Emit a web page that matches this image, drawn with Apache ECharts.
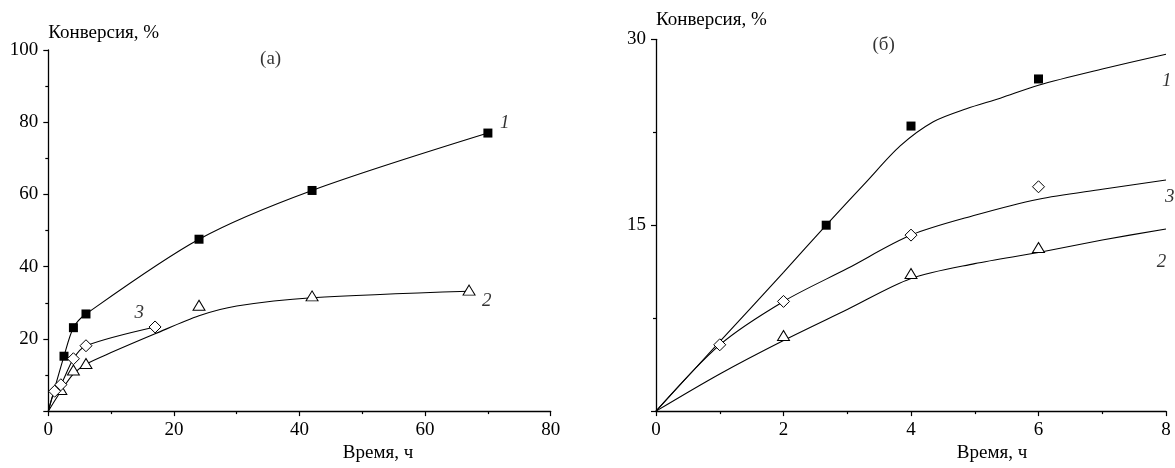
<!DOCTYPE html>
<html>
<head>
<meta charset="utf-8">
<script src="https://cdn.jsdelivr.net/npm/echarts@6/dist/echarts.min.js"></script>
<style>
html,body{margin:0;padding:0;background:#fff;}
#chart{width:1175px;height:468px;}
</style>
</head>
<body>
<div id="chart"></div>
<script>
// ---------- Panel (а) ----------
const aXTicks = [0, 20, 40, 60, 80];
const aYTicks = [0, 20, 40, 60, 80, 100];
// measured points
const a1Points = [[2.5, 15.2], [4, 23.1], [6, 26.9], [24, 47.6], [42, 61.1], [70, 77]];
const a2Points = [[2, 6], [4, 11.4], [6, 13.2], [24, 29.3], [42, 31.9], [67, 33.5]];
const a3Points = [[1, 5.5], [2, 7.3], [4, 14.5], [6, 18.1], [17, 23.3]];
// fitted curves
const a1Curve = [[0, 0], [2.5, 15.2], [4, 23.1], [6, 26.9], [24, 47.6], [42, 61.1], [70, 77]];
const a2Curve = [[0, 0], [2, 5.5], [4, 10.3], [6, 13], [10, 16.2], [17, 21.4], [24, 26.4], [30, 29.1], [42, 31.4], [67, 33.2]];
const a3Curve = [[0, 0], [1, 5.5], [2, 7.3], [4, 14.5], [6, 18.1], [17, 23.3]];
const aLabels = [[72.7, 79.8, '1'], [69.8, 30.5, '2'], [14.5, 27.3, '3']];
const aTitle = [[35.4, 97.5, '(а)']];

// ---------- Panel (б) ----------
const bXTicks = [0, 2, 4, 6, 8];
const bYTicks = [0, 15, 30];
const b1Points = [[2.67, 15], [4, 23], [6, 26.8]];
const b2Points = [[2, 6.1], [4, 11.1], [6, 13.2]];
const b3Points = [[1, 5.35], [2, 8.85], [4, 14.2], [6, 18.1]];
const b1Curve = [[0, 0], [1, 5.6], [2, 11.2], [2.67, 15], [3.3, 18.5], [3.83, 21.4], [4.35, 23.35], [4.87, 24.4], [5.4, 25.25], [6, 26.3], [7, 27.6], [8, 28.8]];
const b2Curve = [[0, 0], [1, 3.0], [2, 5.7], [3, 8.2], [4, 10.7], [5, 11.9], [6, 12.8], [7, 13.8], [8, 14.7]];
const b3Curve = [[0, 0], [1, 5.35], [2, 8.85], [3, 11.5], [4, 14.2], [5, 15.8], [6, 17.1], [7, 17.9], [8, 18.65]];
const bLabels = [[8.01, 26.6, '1'], [7.93, 12.0, '2'], [8.06, 17.3, '3']];
const bTitle = [[3.57, 29.5, '(б)']];

const yName = 'Конверсия, %';
const xName = 'Время, ч';

const FONT = '"Liberation Serif", "Times New Roman", serif';
const BLACK = '#000';

function xAxisFor(ticks, gridIndex, namePad, nameGap) {
  return {
    type: 'value', gridIndex,
    min: ticks[0], max: ticks[ticks.length - 1], interval: ticks[1] - ticks[0],
    name: xName, nameLocation: 'middle', nameGap,
    nameTextStyle: { fontFamily: FONT, fontSize: 19, color: BLACK, padding: [0, 0, 0, namePad] },
    axisLine: { onZero: false, lineStyle: { color: BLACK, width: 1.3 } },
    axisTick: { inside: false, length: 5, lineStyle: { color: BLACK, width: 1.2 } },
    minorTick: { show: true, splitNumber: 2, length: 3, lineStyle: { color: BLACK, width: 1.2 } },
    axisLabel: { fontFamily: FONT, fontSize: 19, color: BLACK, margin: 9, showMinLabel: true, showMaxLabel: true },
    splitLine: { show: false }
  };
}
function yAxisFor(ticks, gridIndex, nameGap) {
  return {
    type: 'value', gridIndex,
    min: ticks[0], max: ticks[ticks.length - 1], interval: ticks[1] - ticks[0],
    name: yName, nameLocation: 'end', nameGap,
    nameTextStyle: { fontFamily: FONT, fontSize: 19, color: BLACK, align: 'left', verticalAlign: 'bottom' },
    axisLine: { onZero: false, lineStyle: { color: BLACK, width: 1.3 } },
    axisTick: { inside: false, length: 5, lineStyle: { color: BLACK, width: 1.2 } },
    minorTick: { show: true, splitNumber: 2, length: 3, lineStyle: { color: BLACK, width: 1.2 } },
    axisLabel: { fontFamily: FONT, fontSize: 19, color: BLACK, margin: 10,
      formatter: v => (v === 0 ? '' : String(v)) },
    splitLine: { show: false }
  };
}
function curve(data, idx) {
  return { type: 'line', xAxisIndex: idx, yAxisIndex: idx, data, smooth: 0.3,
    symbol: 'none', lineStyle: { color: BLACK, width: 1.1 }, z: 2, silent: true };
}
function marks(data, idx, kind) {
  let s = { type: 'scatter', xAxisIndex: idx, yAxisIndex: idx, data, z: 5, clip: false, silent: true };
  if (kind === 'square') {
    s.symbol = 'rect'; s.symbolSize = 9;
    s.itemStyle = { color: BLACK, borderColor: BLACK, borderWidth: 0, opacity: 1 };
  } else if (kind === 'diamond') {
    s.symbol = 'diamond'; s.symbolSize = 12;
    s.itemStyle = { color: '#fff', borderColor: BLACK, borderWidth: 1, opacity: 1 };
  } else {
    s.symbol = 'triangle'; s.symbolSize = [12, 10];
    s.itemStyle = { color: '#fff', borderColor: BLACK, borderWidth: 1, opacity: 1 };
  }
  return s;
}
function texts(data, idx, italic) {
  return { type: 'scatter', xAxisIndex: idx, yAxisIndex: idx, data, symbolSize: 0, clip: false, silent: true, z: 6,
    label: { show: true, position: 'inside', formatter: p => p.data[2], fontFamily: FONT, fontSize: 19,
      fontStyle: italic ? 'italic' : 'normal', color: BLACK } };
}

const chart = echarts.init(document.getElementById('chart'), null, { renderer: 'canvas' });
chart.setOption({
  animation: false,
  backgroundColor: '#fff',
  grid: [
    { left: 48.3, top: 50, width: 502.4, height: 367 },
    { left: 656, top: 39.3, width: 510, height: 379.4 }
  ],
  xAxis: [xAxisFor(aXTicks, 0, 157, 22), xAxisFor(bXTicks, 1, 162, 29)],
  yAxis: [yAxisFor(aYTicks, 0, 7), yAxisFor(bYTicks, 1, 10)],
  series: [
    curve(a1Curve, 0), curve(a2Curve, 0), curve(a3Curve, 0),
    marks(a1Points, 0, 'square'), marks(a2Points, 0, 'triangle'), marks(a3Points, 0, 'diamond'),
    texts(aLabels, 0, true), texts(aTitle, 0, false),
    curve(b1Curve, 1), curve(b2Curve, 1), curve(b3Curve, 1),
    marks(b1Points, 1, 'square'), marks(b2Points, 1, 'triangle'), marks(b3Points, 1, 'diamond'),
    texts(bLabels, 1, true), texts(bTitle, 1, false)
  ]
});
</script>
</body>
</html>
